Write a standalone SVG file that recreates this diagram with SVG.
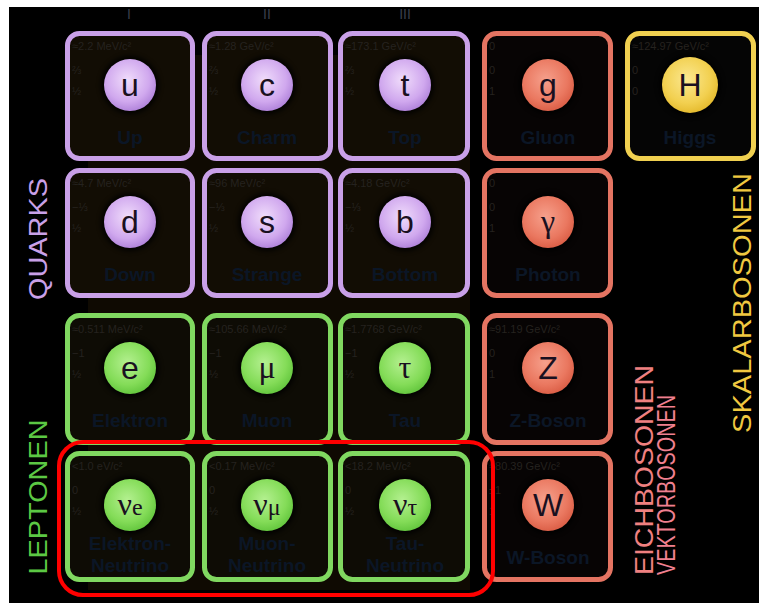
<svg xmlns="http://www.w3.org/2000/svg" width="759" height="603" viewBox="0 0 759 603">
<defs>
<radialGradient id="gP" cx="45%" cy="40%" r="60%"><stop offset="0" stop-color="#f0dcfb"/><stop offset="0.7" stop-color="#d0a8ee"/><stop offset="1" stop-color="#b386dc"/></radialGradient>
<radialGradient id="gR" cx="45%" cy="40%" r="60%"><stop offset="0" stop-color="#f6a08c"/><stop offset="0.7" stop-color="#ea7860"/><stop offset="1" stop-color="#dc6048"/></radialGradient>
<radialGradient id="gY" cx="45%" cy="40%" r="60%"><stop offset="0" stop-color="#fbe890"/><stop offset="0.7" stop-color="#f2d050"/><stop offset="1" stop-color="#e6bc30"/></radialGradient>
<radialGradient id="gG" cx="45%" cy="40%" r="60%"><stop offset="0" stop-color="#b4f090"/><stop offset="0.7" stop-color="#84dc58"/><stop offset="1" stop-color="#66c840"/></radialGradient>
<filter id="blur" x="-50%" y="-50%" width="200%" height="200%"><feGaussianBlur stdDeviation="2.5"/></filter>
</defs>
<style>
.card{stroke-width:5}
.q{stroke:#c9a0e8;fill:#120d04}
.l{stroke:#80d860;fill:#0e0c05}
.b{stroke:#e47462;fill:#070404}
.h{stroke:#f0d050;fill:#050505}
.halo{fill:#000;opacity:0.85;filter:url(#blur)}
.sym{font-family:"Liberation Sans",Arial,sans-serif;font-size:32px;fill:#1a1020;text-anchor:middle}
.gk{font-family:"Liberation Serif","Times New Roman",serif;font-size:32px;fill:#1a1020;text-anchor:middle}
.m{font-family:"Liberation Sans",Arial,sans-serif;font-size:11px;fill:#25221f}
.nm{font-family:"Liberation Sans",Arial,sans-serif;font-size:19px;font-weight:bold;fill:#0b1626;text-anchor:middle}
.side{font-family:"Liberation Sans",Arial,sans-serif;font-size:26px;text-anchor:middle}
.rn{font-family:"Liberation Sans",Arial,sans-serif;font-size:14px;fill:#3a3f4a;text-anchor:middle}
</style>
<rect width="759" height="603" fill="#fff"/>
<rect x="9" y="7" width="750" height="596" fill="#000"/>
<rect x="88" y="55" width="382" height="535" fill="#0f0a02"/>
<g id="gen-labels">
<text class="rn" x="129" y="19">I</text>
<text class="rn" x="267" y="19">II</text>
<text class="rn" x="405" y="19">III</text>
</g>
<g id="card-u"><rect class="card q" x="67.5" y="33.5" width="125" height="125" rx="12"/><circle class="halo" cx="130" cy="85" r="29"/><circle cx="130" cy="85" r="26" fill="url(#gP)"/><text class="sym" x="130" y="96">u</text><text class="m" x="72" y="50">≈2.2 MeV/c²</text><text class="m" x="72" y="74">⅔</text><text class="m" x="72" y="95">½</text><text class="nm" x="130" y="144">Up</text></g>
<g id="card-c"><rect class="card q" x="204.5" y="33.5" width="126" height="125" rx="12"/><circle class="halo" cx="267" cy="85" r="29"/><circle cx="267" cy="85" r="26" fill="url(#gP)"/><text class="sym" x="267" y="96">c</text><text class="m" x="209" y="50">≈1.28 GeV/c²</text><text class="m" x="209" y="74">⅔</text><text class="m" x="209" y="95">½</text><text class="nm" x="267" y="144">Charm</text></g>
<g id="card-t"><rect class="card q" x="340.5" y="33.5" width="127" height="125" rx="12"/><circle class="halo" cx="405" cy="85" r="29"/><circle cx="405" cy="85" r="26" fill="url(#gP)"/><text class="sym" x="405" y="96">t</text><text class="m" x="345" y="50">≈173.1 GeV/c²</text><text class="m" x="345" y="74">⅔</text><text class="m" x="345" y="95">½</text><text class="nm" x="405" y="144">Top</text></g>
<g id="card-g"><rect class="card b" x="484.5" y="33.5" width="126" height="125" rx="12"/><circle class="halo" cx="548" cy="85" r="29"/><circle cx="548" cy="85" r="26" fill="url(#gR)"/><text class="sym" x="548" y="96">g</text><text class="m" x="489" y="50">0</text><text class="m" x="489" y="74">0</text><text class="m" x="489" y="95">1</text><text class="nm" x="548" y="144">Gluon</text></g>
<g id="card-H"><rect class="card h" x="627.5" y="33.5" width="126" height="125" rx="12"/><circle class="halo" cx="690" cy="85" r="31"/><circle cx="690" cy="85" r="28" fill="url(#gY)"/><text class="sym" x="690" y="96">H</text><text class="m" x="632" y="50">≈124.97 GeV/c²</text><text class="m" x="632" y="74">0</text><text class="m" x="632" y="95">0</text><text class="nm" x="690" y="144">Higgs</text></g>
<g id="card-d"><rect class="card q" x="67.5" y="170.5" width="125" height="125" rx="12"/><circle class="halo" cx="130" cy="222" r="29"/><circle cx="130" cy="222" r="26" fill="url(#gP)"/><text class="sym" x="130" y="233">d</text><text class="m" x="72" y="187">≈4.7 MeV/c²</text><text class="m" x="72" y="211">−⅓</text><text class="m" x="72" y="232">½</text><text class="nm" x="130" y="281">Down</text></g>
<g id="card-s"><rect class="card q" x="204.5" y="170.5" width="126" height="125" rx="12"/><circle class="halo" cx="267" cy="222" r="29"/><circle cx="267" cy="222" r="26" fill="url(#gP)"/><text class="sym" x="267" y="233">s</text><text class="m" x="209" y="187">≈96 MeV/c²</text><text class="m" x="209" y="211">−⅓</text><text class="m" x="209" y="232">½</text><text class="nm" x="267" y="281">Strange</text></g>
<g id="card-b"><rect class="card q" x="340.5" y="170.5" width="127" height="125" rx="12"/><circle class="halo" cx="405" cy="222" r="29"/><circle cx="405" cy="222" r="26" fill="url(#gP)"/><text class="sym" x="405" y="233">b</text><text class="m" x="345" y="187">≈4.18 GeV/c²</text><text class="m" x="345" y="211">−⅓</text><text class="m" x="345" y="232">½</text><text class="nm" x="405" y="281">Bottom</text></g>
<g id="card-photon"><rect class="card b" x="484.5" y="170.5" width="126" height="125" rx="12"/><circle class="halo" cx="548" cy="222" r="29"/><circle cx="548" cy="222" r="26" fill="url(#gR)"/><text class="gk" x="548" y="232">γ</text><text class="m" x="489" y="187">0</text><text class="m" x="489" y="211">0</text><text class="m" x="489" y="232">1</text><text class="nm" x="548" y="281">Photon</text></g>
<g id="card-e"><rect class="card l" x="67.5" y="315.5" width="125" height="127" rx="12"/><circle class="halo" cx="130" cy="368" r="29"/><circle cx="130" cy="368" r="26" fill="url(#gG)"/><text class="sym" x="130" y="379">e</text><text class="m" x="72" y="333">≈0.511 MeV/c²</text><text class="m" x="72" y="357">−1</text><text class="m" x="72" y="378">½</text><text class="nm" x="130" y="427">Elektron</text></g>
<g id="card-mu"><rect class="card l" x="204.5" y="315.5" width="126" height="127" rx="12"/><circle class="halo" cx="267" cy="368" r="29"/><circle cx="267" cy="368" r="26" fill="url(#gG)"/><text class="gk" x="267" y="378">μ</text><text class="m" x="209" y="333">≈105.66 MeV/c²</text><text class="m" x="209" y="357">−1</text><text class="m" x="209" y="378">½</text><text class="nm" x="267" y="427">Muon</text></g>
<g id="card-tau"><rect class="card l" x="340.5" y="315.5" width="127" height="127" rx="12"/><circle class="halo" cx="405" cy="368" r="29"/><circle cx="405" cy="368" r="26" fill="url(#gG)"/><text class="gk" x="405" y="378">τ</text><text class="m" x="345" y="333">≈1.7768 GeV/c²</text><text class="m" x="345" y="357">−1</text><text class="m" x="345" y="378">½</text><text class="nm" x="405" y="427">Tau</text></g>
<g id="card-Z"><rect class="card b" x="484.5" y="315.5" width="126" height="127" rx="12"/><circle class="halo" cx="548" cy="368" r="29"/><circle cx="548" cy="368" r="26" fill="url(#gR)"/><text class="sym" x="548" y="379">Z</text><text class="m" x="489" y="333">≈91.19 GeV/c²</text><text class="m" x="489" y="357">0</text><text class="m" x="489" y="378">1</text><text class="nm" x="548" y="427">Z-Boson</text></g>
<g id="card-nue"><rect class="card l" x="67.5" y="453.5" width="125" height="126" rx="12"/><circle class="halo" cx="130" cy="505" r="29"/><circle cx="130" cy="505" r="26" fill="url(#gG)"/><text class="gk" x="130" y="515">ν<tspan font-size="24">e</tspan></text><text class="m" x="72" y="470">&lt;1.0 eV/c²</text><text class="m" x="72" y="494">0</text><text class="m" x="72" y="515">½</text><text class="nm" x="130" y="550">Elektron-</text><text class="nm" x="130" y="572">Neutrino</text></g>
<g id="card-numu"><rect class="card l" x="204.5" y="453.5" width="126" height="126" rx="12"/><circle class="halo" cx="267" cy="505" r="29"/><circle cx="267" cy="505" r="26" fill="url(#gG)"/><text class="gk" x="267" y="515">ν<tspan font-size="24">μ</tspan></text><text class="m" x="209" y="470">&lt;0.17 MeV/c²</text><text class="m" x="209" y="494">0</text><text class="m" x="209" y="515">½</text><text class="nm" x="267" y="550">Muon-</text><text class="nm" x="267" y="572">Neutrino</text></g>
<g id="card-nutau"><rect class="card l" x="340.5" y="453.5" width="127" height="126" rx="12"/><circle class="halo" cx="405" cy="505" r="29"/><circle cx="405" cy="505" r="26" fill="url(#gG)"/><text class="gk" x="405" y="515">ν<tspan font-size="24">τ</tspan></text><text class="m" x="345" y="470">&lt;18.2 MeV/c²</text><text class="m" x="345" y="494">0</text><text class="m" x="345" y="515">½</text><text class="nm" x="405" y="550">Tau-</text><text class="nm" x="405" y="572">Neutrino</text></g>
<g id="card-W"><rect class="card b" x="484.5" y="453.5" width="126" height="126" rx="12"/><circle class="halo" cx="548" cy="505" r="29"/><circle cx="548" cy="505" r="26" fill="url(#gR)"/><text class="sym" x="548" y="516">W</text><text class="m" x="489" y="470">≈80.39 GeV/c²</text><text class="m" x="489" y="494">±1</text><text class="m" x="489" y="515">1</text><text class="nm" x="548" y="564">W-Boson</text></g>
<g id="highlight"><rect x="59" y="442" width="434" height="153" rx="24" fill="none" stroke="#ff0000" stroke-width="4"/></g>
<g id="side-labels">
<text class="side" fill="#c9a0e8" transform="translate(47,239) rotate(-90)" textLength="122" lengthAdjust="spacingAndGlyphs">QUARKS</text>
<text class="side" fill="#5cc844" transform="translate(47,497) rotate(-90)" textLength="155" lengthAdjust="spacingAndGlyphs">LEPTONEN</text>
<text class="side" fill="#f08080" transform="translate(653,470) rotate(-90)" textLength="210" lengthAdjust="spacingAndGlyphs">EICHBOSONEN</text>
<text class="side" fill="#f08090" font-size="17" transform="translate(675,485) rotate(-90)" textLength="180" lengthAdjust="spacingAndGlyphs">VEKTORBOSONEN</text>
<text class="side" fill="#f0c840" transform="translate(751,303) rotate(-90)" textLength="260" lengthAdjust="spacingAndGlyphs">SKALARBOSONEN</text>
</g>
</svg>
